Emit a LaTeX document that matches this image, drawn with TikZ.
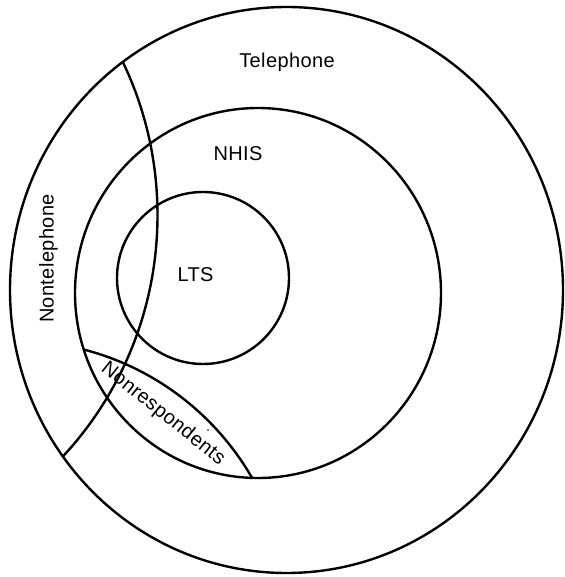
\documentclass[tikz,border=0pt]{standalone}
\usepackage{fontspec}
\setmainfont{Liberation Sans}[LetterSpace=2]
\begin{document}
\begin{tikzpicture}[x=1pt,y=-1pt,
  line/.style={line width=2.4pt, black},
  lbl/.style={font=\fontsize{20}{23}\selectfont, inner sep=0pt, anchor=center}]
\useasboundingbox (0,0) rectangle (564,577);
% outer (Telephone + Nontelephone population)
\draw[line] (286.5,290) ellipse [x radius=276.5, y radius=283];
% NHIS
\draw[line] (258,293) ellipse [x radius=183, y radius=185];
% LTS
\draw[line] (203,278) circle [radius=86];
% Nontelephone boundary
\begin{scope}
  \clip (286.5,290) ellipse [x radius=276.5, y radius=283];
  \draw[line] (-197.5,215.2) circle [radius=355];
\end{scope}
% Nonrespondents boundary
\begin{scope}
  \clip (258,293) ellipse [x radius=183, y radius=185];
  \draw[line] (15.3,613.9) circle [radius=273];
\end{scope}
\fill (208,430) circle [radius=0.9];
% labels
\node[lbl] (tel) at (287,62.5) {Telephone};
\node[lbl] (nhis) at (238,153.5) {NHIS};
\node[lbl] (lts) at (195.5,274.5) {LTS};
\node[lbl, rotate=90] (nontel) at (48.5,258.5) {Nontelephone};
\node[lbl, rotate=-38.5] (nonresp) at (163,414) {Nonrespondents};
\end{tikzpicture}
\end{document}
